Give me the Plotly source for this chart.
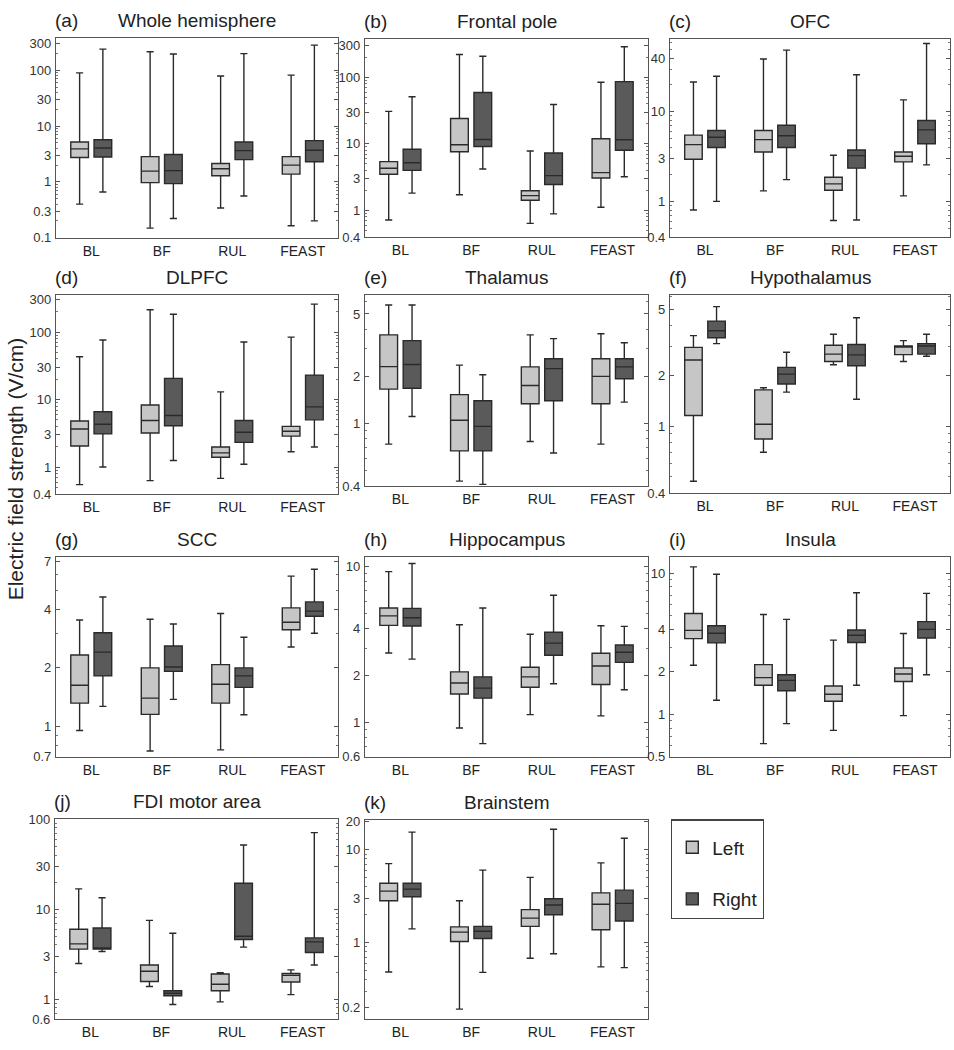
import plotly.graph_objects as go
import math

W, H = 954, 1050

CATS = ["BL", "BF", "RUL", "FEAST"]

# each tuple: (lower whisker, Q1, median, Q3, upper whisker) per category BL, BF, RUL, FEAST
WHOLE_L = [(0.40, 2.73, 3.9, 5.2, 90), (0.148, 0.97, 1.56, 2.84, 215), (0.34, 1.29, 1.72, 2.14, 79), (0.164, 1.38, 2.0, 2.84, 82)]
WHOLE_R = [(0.66, 2.8, 4.05, 5.7, 240), (0.22, 0.93, 1.59, 3.1, 196), (0.56, 2.51, 3.63, 5.2, 199), (0.20, 2.3, 3.7, 5.5, 283)]

FRONTAL_L = [(0.72, 3.5, 4.3, 5.4, 30.7), (1.72, 7.6, 9.7, 24, 219), (0.64, 1.42, 1.67, 1.98, 7.8), (1.12, 3.07, 3.7, 11.9, 84)]
FRONTAL_R = [(1.82, 4.0, 5.2, 8.3, 51), (4.2, 9.1, 11.6, 59, 207), (0.89, 2.45, 3.33, 7.3, 39), (3.2, 8.0, 11.5, 86, 287)]

OFC_L = [(0.80, 2.96, 4.3, 5.5, 21.6), (1.31, 3.56, 4.9, 6.2, 39), (0.61, 1.33, 1.57, 1.86, 3.27), (1.15, 2.76, 3.19, 3.56, 13.6)]
OFC_R = [(1.0, 4.0, 5.2, 6.2, 25), (1.75, 4.0, 5.4, 7.1, 49), (0.62, 2.35, 3.24, 3.75, 26), (2.56, 4.4, 6.3, 8.0, 58)]

DLPFC_L = [(0.55, 2.05, 3.67, 4.8, 43), (0.63, 3.2, 4.9, 8.3, 214), (0.68, 1.4, 1.62, 1.98, 13), (1.69, 2.87, 3.39, 4.0, 84)]
DLPFC_R = [(1.0, 3.1, 4.3, 6.6, 76), (1.25, 4.1, 5.8, 20.6, 183), (1.1, 2.32, 3.28, 4.9, 71), (1.98, 5.0, 7.8, 23, 259)]

THAL_L = [(0.74, 1.66, 2.31, 3.68, 5.7), (0.43, 0.67, 1.05, 1.53, 2.36), (0.77, 1.34, 1.75, 2.3, 3.68), (0.74, 1.34, 2.0, 2.59, 3.74)]
THAL_R = [(1.11, 1.68, 2.38, 3.38, 5.7), (0.41, 0.67, 0.96, 1.4, 2.05), (0.65, 1.40, 2.24, 2.59, 3.48), (1.37, 1.93, 2.3, 2.59, 3.28)]

HYPO_L = [(0.47, 1.16, 2.49, 2.96, 3.48), (0.70, 0.84, 1.03, 1.65, 1.70), (2.33, 2.44, 2.7, 3.05, 3.55), (2.44, 2.68, 3.0, 3.02, 3.25)]
HYPO_R = [(3.12, 3.38, 3.72, 4.25, 5.19), (1.6, 1.79, 2.05, 2.25, 2.77), (1.45, 2.30, 2.67, 3.08, 4.45), (2.62, 2.7, 3.02, 3.12, 3.55)]

SCC_L = [(0.955, 1.32, 1.63, 2.33, 3.52), (0.75, 1.155, 1.4, 2.0, 3.55), (0.76, 1.32, 1.65, 2.08, 3.8), (2.56, 3.14, 3.43, 4.06, 5.91)]
SCC_R = [(1.27, 1.82, 2.41, 3.03, 4.62), (1.38, 1.92, 2.02, 2.59, 3.36), (1.15, 1.59, 1.82, 2.0, 2.87), (3.01, 3.68, 3.91, 4.36, 6.41)]

HIPPO_L = [(2.79, 4.2, 4.83, 5.43, 9.3), (0.92, 1.52, 1.79, 2.11, 4.24), (1.12, 1.68, 1.96, 2.26, 3.68), (1.10, 1.75, 2.30, 2.78, 4.18)]
HIPPO_R = [(2.55, 4.16, 4.7, 5.4, 10.5), (0.73, 1.43, 1.66, 1.96, 5.43), (1.77, 2.70, 3.23, 3.79, 6.56), (1.62, 2.43, 2.82, 3.14, 4.14)]

INSULA_L = [(2.23, 3.44, 3.94, 5.19, 11.1), (0.62, 1.61, 1.82, 2.25, 5.1), (0.77, 1.24, 1.39, 1.59, 3.36), (0.98, 1.71, 1.93, 2.13, 3.74)]
INSULA_R = [(1.26, 3.21, 3.76, 4.25, 9.84), (0.86, 1.47, 1.74, 1.91, 4.71), (1.61, 3.23, 3.64, 3.96, 7.28), (1.91, 3.48, 4.0, 4.54, 7.2)]

FDI_L = [(2.49, 3.59, 4.11, 5.97, 16.8), (1.38, 1.57, 2.04, 2.39, 7.5), (0.93, 1.24, 1.46, 1.90, 1.97), (1.12, 1.55, 1.84, 1.93, 2.11)]
FDI_R = [(3.38, 3.59, 3.71, 6.17, 13.4), (0.87, 1.09, 1.16, 1.24, 5.39), (3.78, 4.59, 5.0, 19.4, 51.6), (2.39, 3.3, 4.33, 4.79, 71)]

BRAIN_L = [(0.485, 2.83, 3.59, 4.36, 7.1), (0.193, 1.03, 1.30, 1.48, 2.83), (0.68, 1.50, 1.84, 2.27, 5.05), (0.55, 1.38, 2.59, 3.44, 7.22)]
BRAIN_R = [(1.41, 3.12, 3.77, 4.36, 15.5), (0.48, 1.11, 1.33, 1.5, 6.04), (0.76, 2.0, 2.55, 2.97, 16.6), (0.54, 1.71, 2.65, 3.68, 13.3)]

TAGS = ["(a)", "(b)", "(c)", "(d)", "(e)", "(f)", "(g)", "(h)", "(i)", "(j)", "(k)"]
TITLES = ["Whole hemisphere", "Frontal pole", "OFC", "DLPFC", "Thalamus", "Hypothalamus",
          "SCC", "Hippocampus", "Insula", "FDI motor area", "Brainstem"]
LEFT_DATA = [WHOLE_L, FRONTAL_L, OFC_L, DLPFC_L, THAL_L, HYPO_L, SCC_L, HIPPO_L, INSULA_L, FDI_L, BRAIN_L]
RIGHT_DATA = [WHOLE_R, FRONTAL_R, OFC_R, DLPFC_R, THAL_R, HYPO_R, SCC_R, HIPPO_R, INSULA_R, FDI_R, BRAIN_R]
TICKS = [
    [0.1, 0.3, 1, 3, 10, 30, 100, 300],
    [0.4, 1, 3, 10, 30, 100, 300],
    [0.4, 1, 3, 10, 40],
    [0.4, 1, 3, 10, 30, 100, 300],
    [0.4, 1, 2, 5],
    [0.4, 1, 2, 5],
    [0.7, 1, 2, 4, 7],
    [0.6, 1, 2, 4, 10],
    [0.5, 1, 2, 4, 10],
    [0.6, 1, 3, 10, 30, 100],
    [0.2, 1, 3, 10, 20],
]
# axis value ranges (min, max)
RANGES = [(0.1, 376), (0.4, 381), (0.4, 66), (0.4, 359), (0.4, 6.65), (0.4, 6.1),
          (0.7, 7.43), (0.6, 11.6), (0.5, 13.1), (0.6, 100), (0.151, 20.8)]

# frame positions in pixels: (left, right, top, bottom)
FRAMES = [
    (56, 338, 31.7, 234), (365, 648, 32, 233.3), (670, 950, 32, 233.3),
    (56, 338, 291.7, 494), (365, 648, 291.7, 486), (670, 950, 292, 493),
    (56, 338, 557.7, 760.7), (365, 648, 557.7, 760.7), (670, 950, 557.7, 760.7),
    (55, 338, 824, 1026.7), (365, 648, 825, 1026.7),
]

LEFT_FILL = "#c6c6c6"
RIGHT_FILL = "#5a5a5a"
EDGE = "#2a2a2a"
AXC = "#555555"
FONT = "Liberation Sans, Arial, sans-serif"

fig = go.Figure()
layout = {}
annotations = []


def px_x(p):
    return p / W


def px_y(p):
    return 1 - p / H


for i in range(len(TITLES)):
    n = i + 1
    xa = "x" if n == 1 else f"x{n}"
    ya = "y" if n == 1 else f"y{n}"
    for side, data, fill in (("Left", LEFT_DATA[i], LEFT_FILL), ("Right", RIGHT_DATA[i], RIGHT_FILL)):
        lo, q1, med, q3, hi = zip(*data)
        fig.add_trace(go.Box(
            x=CATS, lowerfence=list(lo), q1=list(q1), median=list(med), q3=list(q3), upperfence=list(hi),
            orientation="v", name=side, fillcolor=fill, line=dict(color=EDGE, width=1.4),
            whiskerwidth=0.4, boxpoints=False, legendgroup=side, showlegend=(n == 1),
            offsetgroup=side, alignmentgroup=f"panel{n}",
            hoverinfo="skip", xaxis=xa, yaxis=ya,
        ))
    l, r, t, b = FRAMES[i]
    lo_v, hi_v = RANGES[i]
    lo_l, hi_l = math.log10(lo_v), math.log10(hi_v)
    minors = []
    for k in range(math.floor(lo_l) - 1, math.ceil(hi_l) + 1):
        for m in range(1, 10):
            v = m * 10 ** k
            if lo_v * 1.0001 < v < hi_v * 0.9999 and all(abs(v - tv) > 1e-9 * tv for tv in TICKS[i]):
                minors.append(v)
    layout["xaxis" if n == 1 else f"xaxis{n}"] = dict(
        domain=[px_x(l), px_x(r)], anchor=ya, type="category", categoryorder="array",
        categoryarray=CATS, range=[-0.5, 3.5], showline=True, mirror=True, linecolor=AXC,
        linewidth=1.3, ticks="", showgrid=False, zeroline=False,
        tickfont=dict(family=FONT, size=14, color="#222222"), ticklabelstandoff=0,
    )
    layout["yaxis" if n == 1 else f"yaxis{n}"] = dict(
        domain=[px_y(b), px_y(t)], anchor=xa, type="log", range=[lo_l, hi_l],
        tickmode="array", tickvals=TICKS[i], ticktext=[f"{v:g}" for v in TICKS[i]],
        showline=True, mirror="allticks", linecolor=AXC, linewidth=1.3,
        ticks="inside", ticklen=4, tickcolor=AXC, tickwidth=1,
        minor=dict(tickmode="array", tickvals=minors, ticks="inside", ticklen=2, tickcolor="#777777", tickwidth=1),
        showgrid=False, zeroline=False,
        tickfont=dict(family=FONT, size=13, color="#333333"), ticklabelstandoff=1,
    )
    dom = "" if n == 1 else str(n)
    annotations.append(dict(
        text=TAGS[i], xref=f"x{dom} domain", yref=f"y{dom} domain", x=0, y=1,
        xanchor="left", yanchor="bottom", xshift=-3, yshift=5, showarrow=False,
        font=dict(family=FONT, size=19, color="#222222"),
    ))
    annotations.append(dict(
        text=TITLES[i], xref=f"x{dom} domain", yref=f"y{dom} domain", x=0.5, y=1,
        xanchor="center", yanchor="bottom", yshift=5, showarrow=False,
        font=dict(family=FONT, size=19, color="#222222"),
    ))

annotations.append(dict(
    text="Electric field strength (V/cm)", xref="paper", yref="paper",
    x=px_x(15), y=px_y(469), xanchor="center", yanchor="middle", textangle=-90,
    showarrow=False, font=dict(family=FONT, size=21, color="#222222"),
))

fig.update_layout(
    **layout,
    annotations=annotations,
    width=W, height=H,
    margin=dict(l=0, r=0, t=0, b=0),
    paper_bgcolor="white", plot_bgcolor="white",
    boxmode="group", boxgap=0.34, boxgroupgap=0.24,
    showlegend=True,
    legend=dict(
        x=px_x(671), y=px_y(824), xanchor="left", yanchor="top",
        bordercolor="#444444", borderwidth=1.3, bgcolor="white",
        font=dict(family=FONT, size=19, color="#222222"),
        tracegroupgap=24, itemwidth=30,
        title=dict(text=" ", font=dict(size=6)),
    ),
)

fig.write_html("out.html", config={"displayModeBar": False},
               post_script="document.body.style.margin='0px';")
